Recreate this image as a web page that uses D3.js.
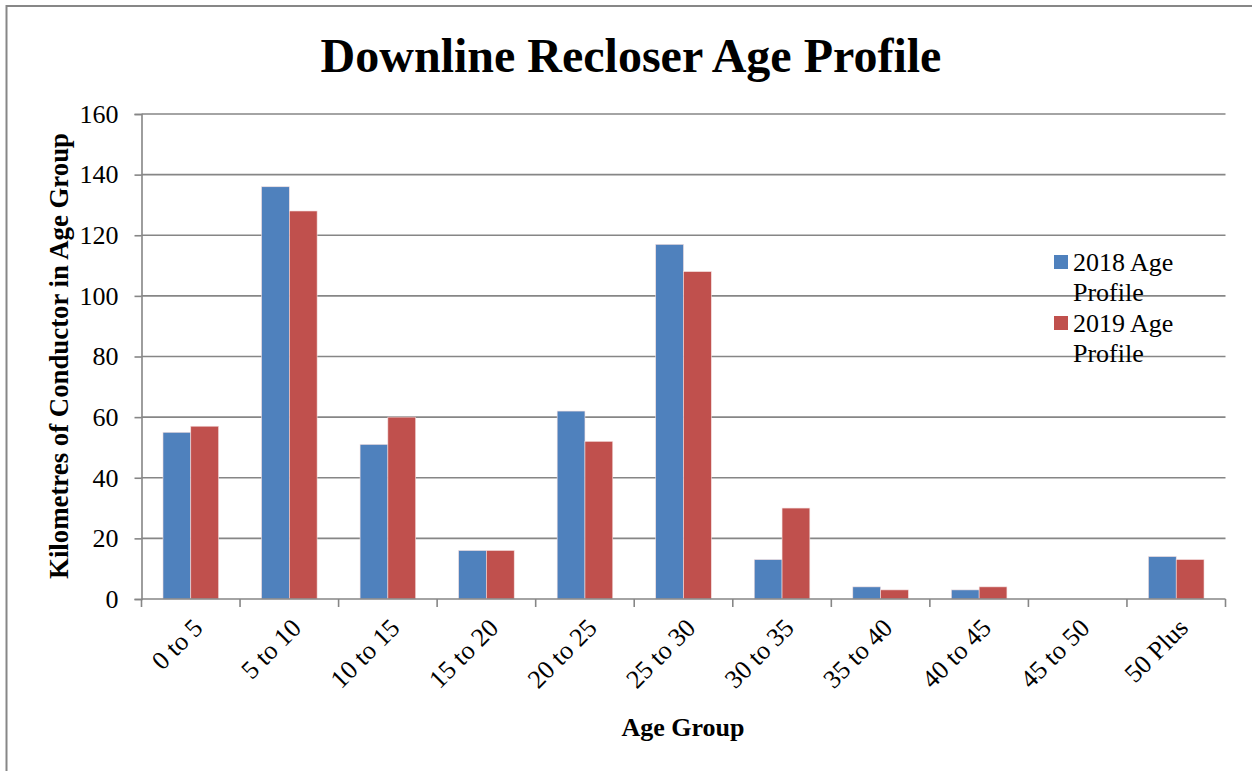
<!DOCTYPE html>
<html>
<head>
<meta charset="utf-8">
<script src="https://cdn.jsdelivr.net/npm/d3@7"></script>
<style>
  html, body { margin: 0; padding: 0; background: #fff; }
  svg { display: block; }
  text { font-family: "Liberation Serif", "Times New Roman", serif; fill: #000; }
</style>
</head>
<body>
<svg id="chart" width="1252" height="771"></svg>
<script>
const categories = ["0 to 5","5 to 10","10 to 15","15 to 20","20 to 25","25 to 30","30 to 35","35 to 40","40 to 45","45 to 50","50 Plus"];
const seriesNames = ["2018 Age Profile", "2019 Age Profile"];
const values2018 = [55, 136, 51, 16, 62, 117, 13, 4, 3, 0, 14];
const values2019 = [57, 128, 60, 16, 52, 108, 30, 3, 4, 0, 13];
const yTicks = [0, 20, 40, 60, 80, 100, 120, 140, 160];
const colors = ["#4F81BD", "#C0504D"];

const svg = d3.select("#chart");
const W = 1252, H = 771;
const m = { left: 141.5, right: 1225.5, top: 114, bottom: 599 };
const FS = 26;

// outer border (top & left visible)
svg.append("rect").attr("x", 6.5).attr("y", 6).attr("width", W + 10).attr("height", H + 10)
  .attr("fill", "none").attr("stroke", "#878787").attr("stroke-width", 2);

const x0 = d3.scaleBand().domain(categories).range([m.left, m.right]).paddingInner(0).paddingOuter(0);
const x1 = d3.scaleBand().domain(seriesNames).range([x0.bandwidth() * 0.218, x0.bandwidth() * 0.782]);
const y = d3.scaleLinear().domain([0, 160]).range([m.bottom, m.top]);

// gridlines
svg.append("g").selectAll("line").data(yTicks.filter(d => d > 0)).join("line")
  .attr("x1", m.left).attr("x2", m.right)
  .attr("y1", d => y(d)).attr("y2", d => y(d))
  .attr("stroke", "#868686").attr("stroke-width", 1.6);

// y axis
const yAxis = svg.append("g").attr("transform", `translate(${m.left},0)`)
  .call(d3.axisLeft(y).tickValues(yTicks).tickSize(7).tickPadding(16).tickFormat(d3.format("d")));
yAxis.select(".domain").attr("stroke", "#868686").attr("stroke-width", 1.6);
yAxis.selectAll(".tick line").attr("stroke", "#868686").attr("stroke-width", 1.6);
yAxis.selectAll(".tick text").attr("font-size", FS).attr("font-family", "Liberation Serif").attr("fill", "#000");

// bars
const data = categories.map((c, i) => ({ cat: c, vals: [values2018[i], values2019[i]] }));
const groups = svg.append("g").selectAll("g").data(data).join("g")
  .attr("transform", d => `translate(${x0(d.cat)},0)`);
groups.selectAll("rect").data(d => d.vals.map((v, j) => ({ v, s: seriesNames[j], j })))
  .join("rect")
  .attr("x", d => x1(d.s))
  .attr("width", x1.bandwidth())
  .attr("y", d => y(d.v))
  .attr("height", d => y(0) - y(d.v))
  .attr("fill", d => colors[d.j])
  .attr("stroke", d => d.v > 0 ? "#f3dede" : "none")
  .attr("stroke-width", 0.6);

// x axis
const xAxis = svg.append("g").attr("transform", `translate(0,${m.bottom})`);
xAxis.append("line").attr("x1", m.left).attr("x2", m.right).attr("y1", 0).attr("y2", 0)
  .attr("stroke", "#868686").attr("stroke-width", 1.6);
const boundaries = categories.map(c => x0(c)).concat([m.right]);
xAxis.selectAll("line.tk").data(boundaries).join("line").attr("class", "tk")
  .attr("x1", d => d).attr("x2", d => d).attr("y1", 0).attr("y2", 8)
  .attr("stroke", "#868686").attr("stroke-width", 1.6);
xAxis.selectAll("text").data(categories).join("text")
  .attr("transform", d => `translate(${x0(d) + x0.bandwidth() / 2 + 7},${24}) rotate(-45)`)
  .attr("text-anchor", "end")
  .attr("dy", "0.35em")
  .attr("font-size", FS)
  .text(d => d);

// title
svg.append("text").attr("x", 631).attr("y", 72).attr("text-anchor", "middle")
  .attr("font-size", 48).attr("font-weight", "bold").text("Downline Recloser Age Profile");

// axis titles
svg.append("text").attr("x", 683).attr("y", 736).attr("text-anchor", "middle")
  .attr("font-size", FS).attr("font-weight", "bold").text("Age Group");
svg.append("text").attr("transform", "translate(68,356) rotate(-90)").attr("text-anchor", "middle")
  .attr("font-size", 26.8).attr("font-weight", "bold").text("Kilometres of Conductor in Age Group");

// legend
const legend = svg.append("g").attr("transform", "translate(1054,255)");
const lg = legend.selectAll("g").data(seriesNames).join("g")
  .attr("transform", (d, i) => `translate(0,${i * 61})`);
lg.append("rect").attr("width", 14).attr("height", 14).attr("fill", (d, i) => colors[i]);
lg.append("text").attr("x", 19).attr("y", 16).attr("font-size", FS).text(d => d.split(" ").slice(0, 2).join(" "));
lg.append("text").attr("x", 19).attr("y", 46).attr("font-size", FS).text(d => d.split(" ").slice(2).join(" "));
</script>
</body>
</html>
